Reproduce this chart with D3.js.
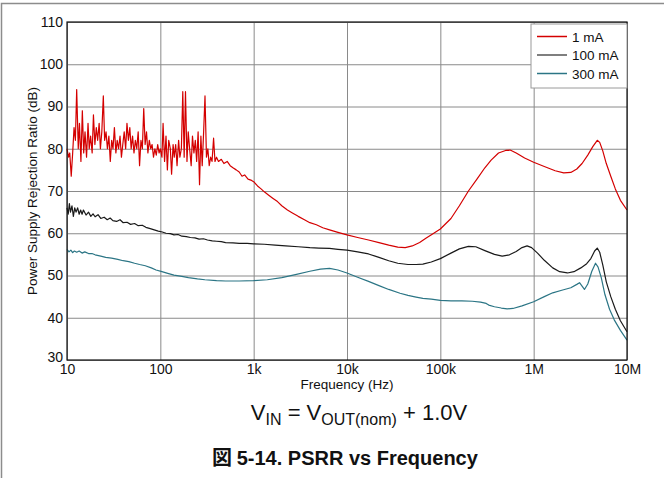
<!DOCTYPE html>
<html>
<head>
<meta charset="utf-8">
<script src="https://cdn.jsdelivr.net/npm/d3@7"></script>
<style>
  body { margin: 0; background: #fff; }
  svg text { font-family: "Liberation Sans", Arial, sans-serif; }
</style>
</head>
<body>
<div id="container"></div>
<script>
/* DATA */
const seriesNames = ["1 mA", "100 mA", "300 mA"];
const seriesColors = ["#d40000", "#1a1a1a", "#2b7585"];
const legendColors = ["#d40000", "#555555", "#2b7585"];
const xTicks = [10, 100, 1e3, 1e4, 1e5, 1e6, 1e7];
const xTickLabels = ["10", "100", "1k", "10k", "100k", "1M", "10M"];
const yTicks = [30, 40, 50, 60, 70, 80, 90, 100, 110];

// [frequency Hz, PSRR dB]
const psrr1mA = [
  [10,80],[10.4,78],[10.7,79],[11.1,73.5],[11.5,79],[11.9,85],[12.3,82],[12.7,94],[13.2,80],[13.6,86],
  [14.1,77],[14.6,89],[15.1,79],[15.6,84],[16.2,78],[16.8,86],[17.3,80],[17.9,83],[18.6,79],[19.2,88],
  [19.9,81],[20.6,85],[21.3,82],[22.1,86],[22.8,80],[23.6,84],[24.5,92.5],[25.3,82],[26.2,84],[27.1,80],
  [28.1,83],[29.1,77],[30.1,82],[31.1,80],[32.2,85],[33.4,79],[34.5,82],[35.7,80],[37,83],[38.3,78],
  [39.6,81],[41,84],[42.5,80],[43.9,86],[45.5,82],[47.1,85],[48.7,80],[50.4,83],[52.2,79],[54,82],
  [55.9,80],[57.9,84],[59.9,76],[62,82],[64.2,80],[66.4,89.5],[68.7,81],[71.1,84],[73.6,79],[76.2,82],
  [78.9,80],[81.6,81],[84.5,78],[87.4,80],[90.5,78.5],[93.7,81],[96.9,79],[100,80],[104,78],[107,86],
  [111,77],[115,83],[119,75],[123,82],[128,80],[132,74],[137,81],[141,78],[146,81],[151,76],
  [157,82],[162,78],[168,80],[174,93.5],[180,78],[186,93.5],[193,77],[199,84],[206,80],[214,76],
  [221,83],[229,79],[237,82],[245,77],[254,84],[263,71.5],[272,83],[281,76],[291,84],[301,92.5],
  [312,78],[323,80],[334,76],[346,78],[358,77],[372,82.5],[385,77],
  [400,78],[420,77],[450,77.5],[480,76.5],[520,77],[560,76],[600,75.5],[650,75],[700,74.5],[750,73.5],
  [800,73.8],[870,72.8],[950,72.5],[1000,72.2],[1100,71.2],[1200,70.5],[1300,69.8],[1450,69],[1600,68.3],[1800,67.5],
  [2000,66.5],[2300,65.5],[2600,64.8],[3000,64],[3500,63.2],[4000,62.5],[4700,62],[5500,61.3],[6500,60.8],[8000,60.2],
  [1e4,59.6],[1.3e4,59],[1.7e4,58.4],[2.2e4,57.8],[2.8e4,57.2],[3.5e4,56.7],[4.2e4,56.6],[5e4,57],[6e4,57.8],[7e4,58.8],
  [8.5e4,60],[1e5,61],[1.3e5,63.5],[1.6e5,66.5],[2e5,70],[2.5e5,73],[3e5,75.5],[3.5e5,77.3],[4.2e5,79],[5e5,79.6],
  [5.6e5,79.7],[6.5e5,79],[8e5,77.8],[1e6,76.8],[1.3e6,75.8],[1.7e6,74.8],[2.1e6,74.3],[2.5e6,74.4],[2.9e6,75.2],[3.3e6,76.5],
  [3.8e6,78.5],[4.3e6,80.5],[4.8e6,82],[5.1e6,81.5],[5.5e6,79.5],[6e6,76.5],[6.7e6,73.5],[7.5e6,70.5],[8.5e6,67.8],[1e7,65.5]
];

const psrr100mA = [
  [10,66],[10.3,64.5],[10.6,67],[10.9,65],[11.3,66.5],[11.7,64],[12.1,66],[12.5,65],[13,66],[13.5,64.5],
  [14,65.5],[14.5,64.5],[15,65.5],[16,64.3],[17,65],[18,64],[19,64.6],[20,63.9],[21.5,64.4],[23,63.5],
  [25,63.8],[27,63.2],[29,63.6],[31,63],[34,62.8],[37,63.2],[40,62.5],[44,62.6],[48,62.1],[53,62.3],
  [58,61.8],[64,61.9],[70,61.4],[78,61.1],[86,60.8],[95,60.5],[105,60.3],[115,60],[128,59.9],[140,59.6],
  [155,59.7],[170,59.3],[190,59.2],[210,59],[235,58.9],[260,58.6],[290,58.7],[320,58.4],[360,58.2],[400,58.1],
  [450,58],[500,57.8],[600,57.7],[700,57.6],[850,57.6],[1000,57.5],[1300,57.4],[1700,57.2],[2200,57],[3000,56.8],
  [4000,56.6],[5000,56.5],[6500,56.4],[8000,56.2],[1e4,56],[1.3e4,55.6],[1.7e4,55.1],[2.2e4,54.3],[2.8e4,53.5],[3.5e4,52.9],
  [4.5e4,52.6],[5.5e4,52.6],[6.5e4,52.7],[8e4,53.2],[1e5,54],[1.3e5,55.3],[1.6e5,56.3],[2e5,56.9],[2.4e5,56.8],[3e5,55.9],
  [3.8e5,55],[4.6e5,54.6],[5.5e5,54.9],[6.5e5,55.7],[7.5e5,56.6],[8.5e5,57],[9.5e5,56.6],[1.1e6,55.3],[1.3e6,53.6],[1.6e6,51.8],
  [1.9e6,50.9],[2.3e6,50.6],[2.7e6,50.9],[3.2e6,51.8],[3.7e6,52.8],[4.1e6,54],[4.5e6,55.8],[4.8e6,56.5],[5.1e6,55.5],[5.5e6,52.5],
  [6e6,48.5],[6.7e6,45],[7.5e6,42],[8.5e6,39.3],[1e7,36.7]
];

const psrr300mA = [
  [10,56.2],[10.5,55.6],[11,56],[11.5,55.4],[12,55.8],[12.7,55.5],[13.5,55.8],[14.5,55.3],[15.5,55.6],[17,55.2],
  [18.5,55.2],[20,54.9],[23,54.6],[26,54.3],[30,54.1],[35,53.8],[40,53.5],[46,53.3],[53,52.9],[60,52.6],
  [69,52.3],[80,51.8],[90,51.3],[104,50.9],[120,50.5],[140,50.1],[170,49.8],[200,49.5],[250,49.2],[300,49],
  [400,48.8],[500,48.7],[700,48.7],[1000,48.8],[1400,49],[2000,49.5],[2800,50.2],[4000,51],[5200,51.5],[6500,51.7],
  [8000,51.3],[1e4,50.6],[1.3e4,49.6],[1.7e4,48.6],[2.2e4,47.6],[2.8e4,46.7],[3.7e4,45.8],[4.5e4,45.3],[5.5e4,44.9],[6.5e4,44.6],
  [8e4,44.4],[1e5,44.1],[1.3e5,44],[1.7e5,44],[2.2e5,43.9],[2.7e5,43.7],[3.1e5,43.4],[3.3e5,43],[3.8e5,42.6],[4.5e5,42.3],
  [5.2e5,42.1],[6e5,42.2],[7.5e5,42.8],[1e6,43.8],[1.3e6,45],[1.6e6,45.9],[2e6,46.5],[2.5e6,47.1],[2.9e6,47.9],[3.1e6,48.3],
  [3.3e6,47.5],[3.5e6,46.7],[3.8e6,48],[4.2e6,51],[4.6e6,52.9],[4.9e6,52],[5.3e6,49.5],[5.8e6,45.5],[6.5e6,42],[7.3e6,39.5],
  [8.5e6,37],[1e7,34.7]
];

const series = [psrr1mA, psrr100mA, psrr300mA];

/* LAYOUT */
const width = 664, height = 478;
const margin = { top: 22, left: 67, right: 37, bottom: 118 };
const innerW = width - margin.left - margin.right;
const innerH = height - margin.top - margin.bottom;

const svg = d3.select("#container").append("svg")
  .attr("width", width)
  .attr("height", height);

// page frame (left and top edges)
svg.append("path")
  .attr("d", `M1.5,${height} V3.5 H${width}`)
  .attr("fill", "none")
  .attr("stroke", "#8c8c8c")
  .attr("stroke-width", 1.5);

const x = d3.scaleLog().domain([10, 1e7]).range([0, innerW]);
const y = d3.scaleLinear().domain([30, 110]).range([innerH, 0]);

const g = svg.append("g").attr("transform", `translate(${margin.left},${margin.top})`);

// grid
g.append("g")
  .attr("transform", `translate(0,${innerH})`)
  .call(d3.axisBottom(x).tickValues(xTicks).tickSize(-innerH).tickFormat(""))
  .call(a => a.select(".domain").remove())
  .call(a => a.selectAll("line").attr("stroke", "#8a8a8a").attr("stroke-width", 1));

g.append("g")
  .call(d3.axisLeft(y).tickValues(yTicks).tickSize(-innerW).tickFormat(""))
  .call(a => a.select(".domain").remove())
  .call(a => a.selectAll("line").attr("stroke", "#8a8a8a").attr("stroke-width", 1));

// tick labels
g.append("g")
  .attr("transform", `translate(0,${innerH})`)
  .call(d3.axisBottom(x).tickValues(xTicks).tickSize(0).tickPadding(4)
    .tickFormat((d, i) => xTickLabels[i]))
  .call(a => a.select(".domain").remove())
  .call(a => a.selectAll("text").attr("font-size", 14).attr("fill", "#111")
    .attr("font-family", "Liberation Sans, Arial, sans-serif"));

g.append("g")
  .call(d3.axisLeft(y).tickValues(yTicks).tickSize(0).tickPadding(4))
  .call(a => a.select(".domain").remove())
  .call(a => a.selectAll("text").attr("font-size", 14).attr("fill", "#111")
    .attr("font-family", "Liberation Sans, Arial, sans-serif")
    .attr("dy", d => d === 30 ? "0.1em" : "0.32em"));

// lines
const line = d3.line().x(d => x(d[0])).y(d => y(d[1]));

g.selectAll("path.series")
  .data(series)
  .join("path")
  .attr("class", "series")
  .attr("d", line)
  .attr("fill", "none")
  .attr("stroke", (d, i) => seriesColors[i])
  .attr("stroke-width", 1.2)
  .attr("stroke-linejoin", "round");

// plot frame
g.append("rect")
  .attr("width", innerW).attr("height", innerH)
  .attr("fill", "none").attr("stroke", "#111").attr("stroke-width", 1.2);

// legend
const leg = g.append("g").attr("transform", `translate(${innerW - 96},2)`);
leg.append("rect")
  .attr("width", 96).attr("height", 64)
  .attr("fill", "#fff").attr("stroke", "#9a9a9a");
seriesNames.forEach((name, i) => {
  const ly = 12.5 + i * 18.5;
  leg.append("line")
    .attr("x1", 6).attr("x2", 36).attr("y1", ly).attr("y2", ly)
    .attr("stroke", legendColors[i]).attr("stroke-width", 1.5);
  leg.append("text")
    .attr("x", 41).attr("y", ly + 5)
    .attr("font-size", 13.5).attr("fill", "#111")
    .text(name);
});

// axis titles
svg.append("text")
  .attr("x", margin.left + innerW / 2).attr("y", 389)
  .attr("text-anchor", "middle").attr("font-size", 13.5).attr("fill", "#111")
  .text("Frequency (Hz)");

svg.append("text")
  .attr("transform", `translate(37,${margin.top + innerH / 2}) rotate(-90)`)
  .attr("text-anchor", "middle").attr("font-size", 13.5).attr("fill", "#111")
  .text("Power Supply Rejection Ratio (dB)");

// condition caption
const cap = svg.append("text")
  .attr("x", 359).attr("y", 420)
  .attr("text-anchor", "middle").attr("font-size", 22).attr("fill", "#111");
cap.append("tspan").text("V");
cap.append("tspan").attr("font-size", 16).attr("dy", 5).text("IN");
cap.append("tspan").attr("dy", -5).text(" = V");
cap.append("tspan").attr("font-size", 16).attr("dy", 5).text("OUT(nom)");
cap.append("tspan").attr("dy", -5).text(" + 1.0V");

// figure title
const title = svg.append("text")
  .attr("x", 345).attr("y", 465)
  .attr("text-anchor", "middle").attr("font-size", 20).attr("font-weight", "bold").attr("fill", "#111");
title.append("tspan").attr("font-family", "Noto Sans CJK JP").text("図 ");
title.append("tspan").text("5-14. PSRR vs Frequency");
</script>
</body>
</html>
